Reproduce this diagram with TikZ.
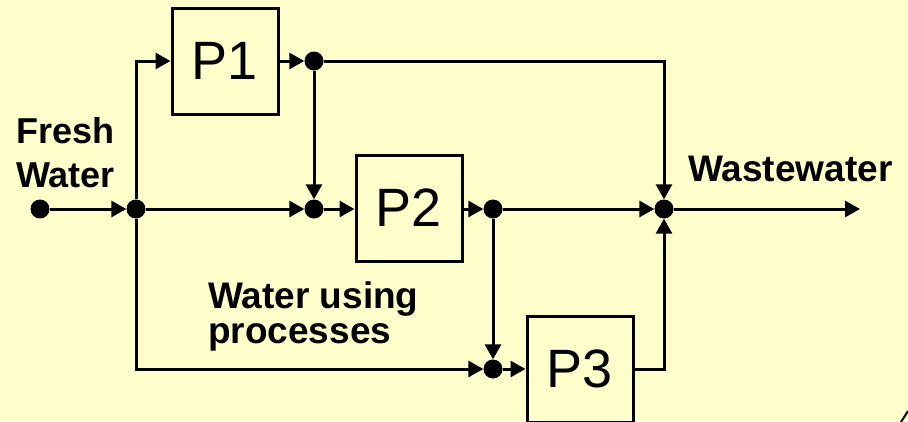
\documentclass[tikz,border=0pt]{standalone}
\usepackage{fontspec}
\setmainfont{Liberation Sans}
\usetikzlibrary{arrows.meta}
\definecolor{bgyellow}{RGB}{255,255,204}
\tikzset{
  flow/.style={line width=3pt, -{Triangle[length=15pt,width=16pt]}},
  junction/.style={circle, fill=black, inner sep=0pt, minimum size=19pt},
  procbox/.style={draw, line width=3pt, minimum width=106pt, minimum height=106pt, inner sep=0pt,
                  font=\fontsize{54}{60}\selectfont},
  lbl/.style={anchor=base west, inner sep=0pt, font=\fontsize{36}{40}\selectfont\bfseries},
  lblb/.style={lbl, font=\fontsize{37}{40}\selectfont\bfseries}
}
\begin{document}
\begin{tikzpicture}[x=1pt,y=-1pt]
\useasboundingbox (0,0) rectangle (908,421);
\fill[bgyellow] (0,0) rectangle (908,421);

% process boxes
\node[procbox] (P1) at (225,61) {P1};
\node[procbox] (P2) at (409,208) {P2};
\node[procbox] (P3) at (580,369) {P3};

% junctions
\node[junction] (F)  at (40,209) {};
\node[junction] (S1) at (136,209) {};
\node[junction] (D1) at (314,61) {};
\node[junction] (D2) at (314,209) {};
\node[junction] (D3) at (493,209) {};
\node[junction] (D4) at (493,369) {};
\node[junction] (W)  at (664,209) {};
\coordinate (out) at (860,209);

% connectors
\draw[flow] (F) -- (S1);
\draw[flow] (S1) |- (P1);
\draw[flow] (P1) -- (D1);
\draw[flow] (D1) -| (W);
\draw[flow] (D1) -- (D2);
\draw[flow] (S1) -- (D2);
\draw[flow] (D2) -- (P2.west |- D2);
\draw[flow] (P2.east |- D3) -- (D3);
\draw[flow] (D3) -- (W);
\draw[flow] (D3) -- (D4);
\draw[flow] (S1) |- (D4);
\draw[flow] (D4) -- (P3);
\draw[flow] (P3) -| (W);
\draw[flow] (W) -- (out);

% labels
\node[lbl] (fresh1) at (16,143) {Fresh};
\node[lbl] (fresh2) at (16,187) {Water};
\node[lblb] (waste) at (688,181) {Wastewater};
\node[lblb] (wup1) at (208,308) {Water using};
\node[lblb] (wup2) at (208,343) {processes};

% corner fragment
\draw[line width=2pt] (901,422) -- (908,411);
\end{tikzpicture}
\end{document}
